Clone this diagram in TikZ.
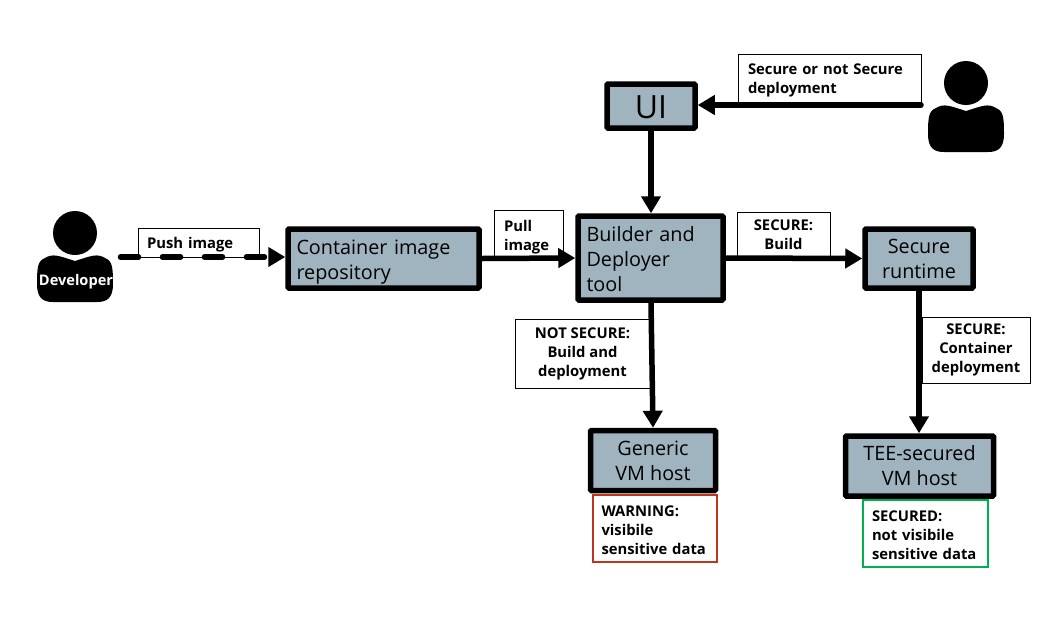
\documentclass[tikz,border=0pt]{standalone}
\usepackage{fontspec}
\setmainfont{Open Sans}
\usetikzlibrary{arrows.meta}
\definecolor{boxfill}{RGB}{159,180,191}
\definecolor{warnred}{RGB}{192,52,29}
\definecolor{okgreen}{RGB}{0,176,80}
\tikzset{
  padtop/.style={execute at begin node={\rule{0pt}{#1}}},
  block/.style={draw=black, line width=5.5pt, rounded corners=1pt, fill=boxfill, inner sep=0pt, align=center, font=\fontsize{19.8}{25}\selectfont},
  note/.style={draw=black, line width=1pt, fill=white, inner sep=0pt, align=center, padtop=15pt, font=\bfseries\fontsize{14.8}{19}\selectfont},
  flow/.style={line width=5.5pt, -{Triangle[length=17pt,width=19pt]}},
  person/.pic={
    \fill[black] (0,-23) circle (22);
    \fill[black] (-38,28) .. controls (-38,10) and (-37,5) .. (-30,2)
      .. controls (-22,-3) and (-16,0) .. (0,5)
      .. controls (16,0) and (22,-3) .. (30,2)
      .. controls (37,5) and (38,10) .. (38,28)
      .. controls (38,42) and (32,46) .. (22,46)
      -- (-22,46) .. controls (-32,46) and (-38,42) .. (-38,28) -- cycle;
  }
}

\begin{document}
\begin{tikzpicture}[x=1pt,y=-1pt]
\useasboundingbox (0,0) rectangle (1061,619);

% People
\pic at (75,256) {person};
\pic at (966,106) {person};
\node[text=white, font=\bfseries\fontsize{14.6}{16}\selectfont, inner sep=0pt] (devname) at (76,282) {Developer};

% Labels sitting on the arrows
\node[note, minimum width=121pt, minimum height=29pt, align=left, text width=103pt, padtop=13pt] (pushnote) at (198.5,242.5) {Push image};
\node[note, minimum width=69pt, minimum height=47pt, align=left, text width=49pt, padtop=19pt] (pullnote) at (528.5,233.5) {Pull\\image};
\node[note, minimum width=93pt, minimum height=45pt, padtop=18pt] (buildnote) at (783.5,234.5) {SECURE:\\Build};
\node[note, minimum width=135pt, minimum height=69pt, padtop=18pt] (notsecnote) at (582.5,353.5) {NOT SECURE:\\Build and\\deployment};
\node[note, minimum width=108pt, minimum height=66pt, padtop=15pt] (contnote) at (976,350) {SECURE:\\Container\\deployment};
\node[note, minimum width=183pt, minimum height=49pt, align=left, text width=163pt] (usernote) at (829.5,78.5) {Secure or not Secure\\deployment};

% Blocks
\node[block, minimum width=88pt, minimum height=44pt, font=\fontsize{32}{34}\selectfont, padtop=25.5pt] (ui) at (651,106) {UI};
\node[block, minimum width=191pt, minimum height=59pt, align=left, text width=174pt, padtop=22pt] (repo) at (383.5,258.5) {Container image\\repository};
\node[block, minimum width=145pt, minimum height=84pt, align=left, text width=128pt, padtop=17pt] (builder) at (650.5,258) {Builder and\\Deployer\\tool};
\node[block, minimum width=108pt, minimum height=59pt, padtop=19pt] (runtime) at (919,258.5) {Secure\\runtime};
\node[block, minimum width=125pt, minimum height=60pt, padtop=21pt] (generic) at (653,460.5) {Generic\\VM host};
\node[block, minimum width=148pt, minimum height=60pt, padtop=20pt] (tee) at (919.5,466) {TEE-secured\\VM host};

% Warning boxes
\node[note, draw=warnred, line width=2pt, minimum width=124pt, minimum height=67pt, align=left, text width=106pt] (warnbox) at (654.5,528) {WARNING:\\visibile\\sensitive data};
\node[note, draw=okgreen, line width=2pt, minimum width=125pt, minimum height=67pt, align=left, text width=106pt] (okbox) at (925,533) {SECURED:\\not visibile\\sensitive data};

% Free ends of the arrows
\coordinate (devend) at (120.5,257);
\coordinate (userend) at (921,105);

% Arrows
\draw[flow, line cap=round, dash pattern=on 18pt off 24pt] (devend) -- (repo.west |- devend);
\draw[flow, line cap=round] (userend) -- (ui.east |- userend);
\draw[flow] (ui.south) -- (builder.north -| ui.south);
\draw[flow] (repo.east) -- (builder.west);
\draw[flow] (builder.east) -- (runtime.west);
\draw[flow] (builder.south -| ui.south) -- (generic.north);
\draw[flow] (runtime.south) -- (tee.north -| runtime.south);

\end{tikzpicture}
\end{document}
